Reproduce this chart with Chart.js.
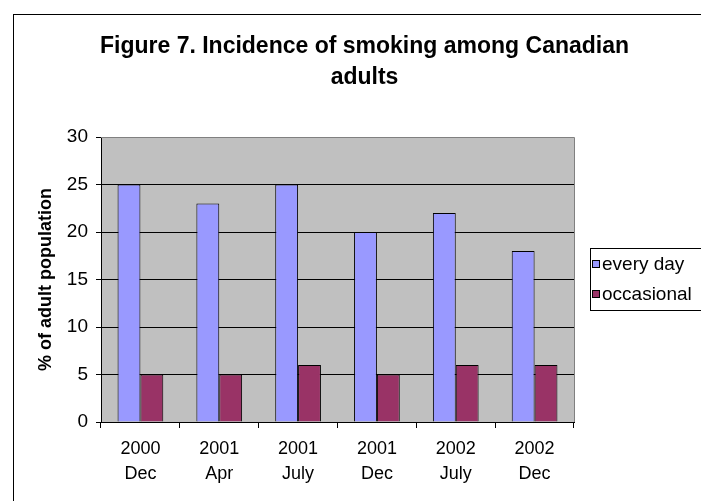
<!DOCTYPE html>
<html>
<head>
<meta charset="utf-8">
<script src="https://cdn.jsdelivr.net/npm/chart.js@4"></script>
<style>
  html, body { margin: 0; padding: 0; background: #fff; }
  #smoking { display: block; }
</style>
</head>
<body>
<canvas id="smoking" width="701" height="501"></canvas>
<script>
// ==================== DATA ====================
const periods = [['2000', 'Dec'], ['2001', 'Apr'], ['2001', 'July'], ['2001', 'Dec'], ['2002', 'July'], ['2002', 'Dec']];
const everyDay = [25, 23, 25, 20, 22, 18];
const occasional = [5, 5, 6, 5, 6, 6];
const yTicks = [0, 5, 10, 15, 20, 25, 30];
const titleLines = ['Figure 7. Incidence of smoking among Canadian', 'adults'];

const FONT = 'Arial, "Liberation Sans", sans-serif';

// ==================== FRAME, TITLE, LEGEND ====================
const excelFrame = {
  id: 'excelFrame',
  beforeDraw(chart) {
    const ctx = chart.ctx;
    const a = chart.chartArea;
    ctx.save();
    ctx.fillStyle = '#fff';
    ctx.fillRect(0, 0, chart.width, chart.height);
    // outer chart border (runs off the right and bottom)
    ctx.strokeStyle = '#000';
    ctx.lineWidth = 1;
    ctx.strokeRect(13.5, 14.5, 720, 520);
    // plot background
    ctx.fillStyle = '#c0c0c0';
    ctx.fillRect(a.left, a.top, a.right - a.left, a.bottom - a.top);
    ctx.restore();
  },
  afterDatasetsDraw(chart) {
    const ctx = chart.ctx;
    const a = chart.chartArea;
    ctx.save();
    ctx.strokeStyle = '#808080';
    ctx.lineWidth = 1;
    ctx.beginPath();
    ctx.moveTo(a.left, a.top + 0.5);
    ctx.lineTo(a.right + 0.5, a.top + 0.5);
    ctx.lineTo(a.right + 0.5, a.bottom);
    ctx.stroke();
    ctx.restore();
  },
  afterDraw(chart) {
    const ctx = chart.ctx;
    ctx.save();
    // title
    ctx.fillStyle = '#000';
    ctx.font = 'bold 23px ' + FONT;
    ctx.textAlign = 'center';
    ctx.textBaseline = 'middle';
    ctx.fillText(titleLines[0], 364.5, 47);
    ctx.fillText(titleLines[1], 364.5, 78);

    // legend box
    ctx.fillStyle = '#fff';
    ctx.fillRect(590, 248, 140, 62);
    ctx.strokeStyle = '#000';
    ctx.strokeRect(590.5, 248.5, 140, 62);
    ctx.font = '19px ' + FONT;
    ctx.textAlign = 'left';
    chart.data.datasets.forEach((ds, i) => {
      const y = 264 + i * 30;
      ctx.fillStyle = ds.backgroundColor;
      ctx.fillRect(592.5, y - 3.5, 7, 7);
      ctx.strokeStyle = '#000';
      ctx.strokeRect(592.5, y - 3.5, 7, 7);
      ctx.fillStyle = '#000';
      ctx.fillText(ds.label, 602, y + 1);
    });
    ctx.restore();
  }
};

// ==================== CHART ====================
new Chart(document.getElementById('smoking'), {
  type: 'bar',
  data: {
    labels: periods,
    datasets: [
      { label: 'every day', data: everyDay, backgroundColor: '#9999ff', borderColor: '#000', borderWidth: 1 },
      { label: 'occasional', data: occasional, backgroundColor: '#993366', borderColor: '#000', borderWidth: 1 }
    ]
  },
  options: {
    responsive: false,
    animation: false,
    events: [],
    layout: { padding: { left: 20, top: 137, right: 127, bottom: 0 } },
    categoryPercentage: 0.58,
    barPercentage: 1,
    plugins: {
      legend: { display: false },
      title: { display: false },
      tooltip: { enabled: false }
    },
    scales: {
      x: {
        afterFit(scale) { scale.height = 79; },
        grid: { drawOnChartArea: false, drawTicks: true, tickLength: 6, color: '#000', offset: true },
        border: { color: '#000' },
        ticks: { color: '#000', font: { family: FONT, size: 18, lineHeight: 1.39 }, padding: 9, maxRotation: 0 }
      },
      y: {
        min: 0,
        max: 30,
        afterFit(scale) { scale.width = 81; },
        afterBuildTicks(scale) { scale.ticks = yTicks.map(v => ({ value: v })); },
        grid: { color: '#000', tickLength: 5 },
        border: { color: '#000' },
        ticks: { color: '#000', font: { family: FONT, size: 19 }, padding: 8 },
        title: {
          display: true,
          text: '% of adult population',
          color: '#000',
          font: { family: FONT, size: 18, weight: 'bold' },
          padding: { top: 15, bottom: 0 }
        }
      }
    }
  },
  plugins: [excelFrame]
});
</script>
</body>
</html>
